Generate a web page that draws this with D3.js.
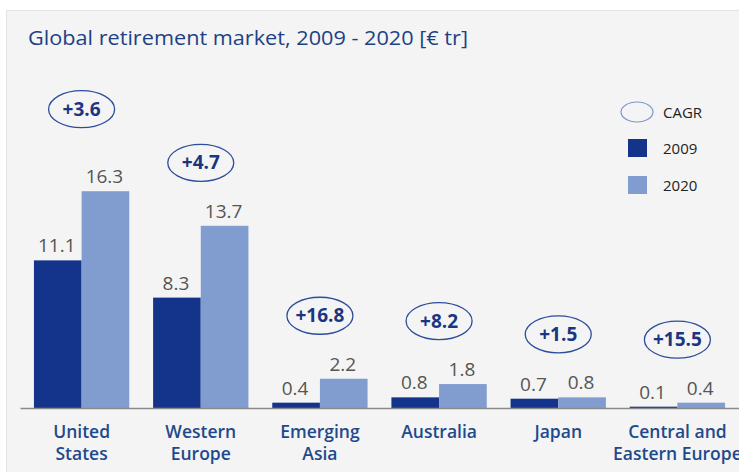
<!DOCTYPE html>
<html>
<head>
<meta charset="UTF-8">
<script src="https://d3js.org/d3.v7.min.js"></script>
<style>
  body { margin: 0; background: #fff; }
  .value { fill: #555; font: 500 19px "Open Sans", sans-serif; }
  .cagr text { fill: #1b3680; font: bold 19px "Open Sans", sans-serif; }
  .legend text { fill: #222; font: 15px "Open Sans", sans-serif; }
</style>
</head>
<body>
<svg id="chart" width="739" height="472"></svg>
<script>
// data
var regions = ["United\nStates", "Western\nEurope", "Emerging\nAsia", "Australia", "Japan", "Central and\nEastern Europe"];
var years = ["2009", "2020"];
var values2009 = [11.1, 8.3, 0.4, 0.8, 0.7, 0.1];
var values2020 = [16.3, 13.7, 2.2, 1.8, 0.8, 0.4];
var cagr = ["+3.6", "+4.7", "+16.8", "+8.2", "+1.5", "+15.5"];

var colors = {"2009": "#14338a", "2020": "#819dcf"};

var svg = d3.select("#chart");

// panel
svg.append("rect")
   .attr("x", 6.5).attr("y", 10.5)
   .attr("width", 740).attr("height", 470)
   .attr("fill", "#f4f4f4")
   .attr("stroke", "#e4e4e4");

svg.append("text")
   .attr("x", 28).attr("y", 45)
   .attr("fill", "#1c4285")
   .style("font", "500 20px 'Open Sans', sans-serif")
   .attr("textLength", 440)
   .attr("lengthAdjust", "spacingAndGlyphs")
   .text("Global retirement market, 2009 - 2020 [€ tr]");

var baseline = 408;

var x0 = d3.scaleBand()
   .domain(regions)
   .range([20, 739])
   .paddingInner(0.2)
   .paddingOuter(0.117);

var x1 = d3.scaleBand()
   .domain(years)
   .range([0, x0.bandwidth()]);

var y = d3.scaleLinear()
   .domain([0, 20])
   .range([baseline, baseline - 266]);

var rows = regions.map(function(r, i) {
  return {region: r, cagr: cagr[i], vals: [
    {year: "2009", v: values2009[i]},
    {year: "2020", v: values2020[i]}
  ]};
});

var groups = svg.selectAll(".grp")
   .data(rows)
   .enter().append("g")
   .attr("class", "grp")
   .attr("transform", function(d) { return "translate(" + x0(d.region) + ",0)"; });

groups.selectAll("rect")
   .data(function(d) { return d.vals; })
   .enter().append("rect")
   .attr("x", function(d) { return x1(d.year); })
   .attr("y", function(d) { return y(d.v); })
   .attr("width", x1.bandwidth())
   .attr("height", function(d) { return y(0) - y(d.v); })
   .attr("fill", function(d) { return colors[d.year]; });

groups.selectAll(".value")
   .data(function(d) { return d.vals; })
   .enter().append("text")
   .attr("class", "value")
   .attr("x", function(d) { return x1(d.year) + x1.bandwidth() / 2 - 1; })
   .attr("y", function(d) { return y(d.v) - 8; })
   .attr("text-anchor", "middle")
   .text(function(d) { return d.v.toFixed(1); });

// CAGR bubbles above the taller bar
var lift = function(i) { return i === 0 ? 82 : 63; };
var bubbles = groups.append("g")
   .attr("class", "cagr")
   .attr("transform", function(d, i) {
     var top = y(d3.max(d.vals, function(e) { return e.v; }));
     return "translate(" + (x0.bandwidth() / 2) + "," + (top - lift(i)) + ")";
   });
bubbles.append("ellipse")
   .attr("rx", 33).attr("ry", 18.5)
   .attr("fill", "none")
   .attr("stroke", "#2d4c9a")
   .attr("stroke-width", 1.3);
bubbles.append("text")
   .attr("text-anchor", "middle")
   .attr("dy", "0.35em")
   .text(function(d) { return d.cagr; });

// axis
var axis = svg.append("g")
   .attr("transform", "translate(0," + baseline + ")")
   .call(d3.axisBottom(x0).tickSize(0).tickPadding(0).tickFormat(""));
axis.select(".domain").attr("stroke", "#8a8a8a").attr("stroke-width", 1.5);

axis.selectAll(".tick text")
   .attr("fill", "#1e4a8c")
   .style("font", "600 17.5px 'Open Sans', sans-serif")
   .attr("y", 30)
   .attr("dy", null)
   .each(function(d) {
     var t = d3.select(this);
     d.split("\n").forEach(function(line, k) {
       t.append("tspan").attr("x", 0).attr("dy", k === 0 ? 0 : 22).text(line);
     });
   });

// legend
var legend = svg.append("g").attr("class", "legend");
legend.append("ellipse")
   .attr("cx", 637).attr("cy", 112)
   .attr("rx", 16).attr("ry", 10)
   .attr("fill", "none")
   .attr("stroke", "#7d98cc")
   .attr("stroke-width", 1.2);
legend.append("text").attr("x", 663).attr("y", 118).text("CAGR");

var leg = legend.selectAll(".item")
   .data(years)
   .enter().append("g")
   .attr("transform", function(d, i) { return "translate(628," + (139 + i * 37) + ")"; });
leg.append("rect")
   .attr("width", 19).attr("height", 18)
   .attr("fill", function(d) { return colors[d]; });
leg.append("text")
   .attr("x", 35).attr("y", 15)
   .text(function(d) { return d; });
</script>
</body>
</html>
